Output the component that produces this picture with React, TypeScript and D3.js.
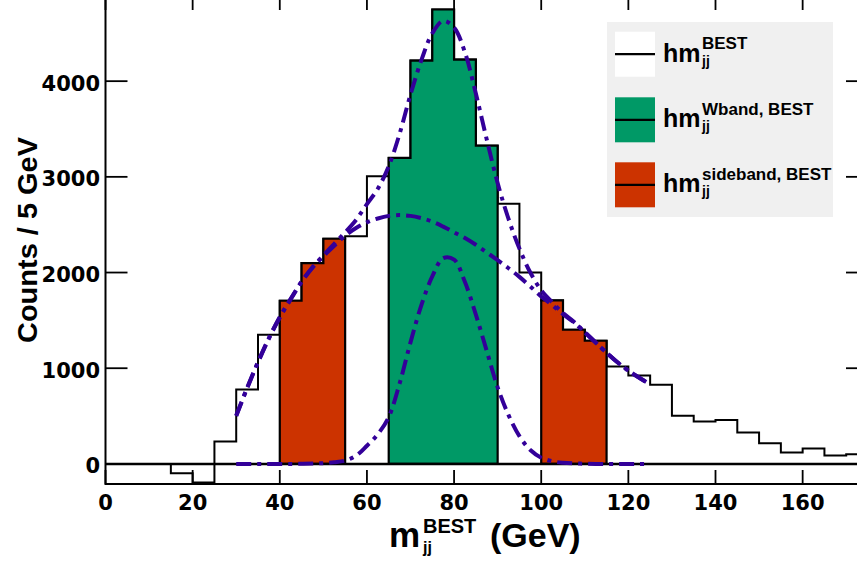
import React from 'react';
import * as d3 from 'd3';

// ---- data ----
const binLow = [0, 5, 10, 15, 20, 25, 30, 35, 40, 45, 50, 55, 60, 65, 70, 75, 80, 85, 90, 95, 100, 105, 110, 115, 120, 125, 130, 135, 140, 145, 150, 155, 160, 165, 170];
const binWidth = 5;
const hmBest = [0, 0, 0, -97, -195, 233, 778, 1349, 1705, 2099, 2353, 2378, 3005, 3198, 4215, 4749, 4226, 3326, 2720, 2001, 1708, 1402, 1287, 1018, 924, 826, 502, 443, 460, 327, 216, 118, 160, 87, 101];

const wbandBins = [65, 70, 75, 80, 85];
const wbandVals = [3198, 4215, 4749, 4226, 3326];
const sideLoBins = [40, 45, 50];
const sideLoVals = [1705, 2099, 2353];
const sideHiBins = [100, 105, 110];
const sideHiVals = [1708, 1402, 1287];

const fitX = [30, 32.5, 35, 37.5, 40, 42.5, 45, 47.5, 50, 52.5, 55, 57.5, 60, 62.5, 65, 67.5, 70, 72.5, 75, 77.5, 80, 82.5, 85, 87.5, 90, 92.5, 95, 97.5, 100, 102.5, 105, 107.5, 110, 112.5, 115, 117.5, 120, 122.5, 125];
const fitTotal = [505, 795, 1065, 1315, 1535, 1725, 1905, 2055, 2180, 2300, 2420, 2550, 2715, 2875, 3110, 3450, 3860, 4220, 4500, 4630, 4560, 4300, 3870, 3390, 2935, 2560, 2250, 2000, 1815, 1690, 1577, 1485, 1377, 1268, 1162, 1062, 975, 900, 830];
const fitBkg = [500, 790, 1060, 1310, 1530, 1720, 1900, 2050, 2170, 2280, 2385, 2465, 2525, 2565, 2592, 2600, 2592, 2568, 2532, 2480, 2420, 2360, 2290, 2210, 2130, 2045, 1955, 1855, 1750, 1660, 1565, 1480, 1375, 1268, 1162, 1062, 975, 900, 830];
const fitSig = [0, 0, 0, 0, 0, 0, 1, 3, 8, 18, 35, 85, 190, 310, 490, 840, 1270, 1660, 1960, 2150, 2135, 1900, 1560, 1180, 800, 510, 290, 145, 65, 28, 12, 5, 2, 0, 0, 0, 0, 0, 0];

const xTicks = [0, 20, 40, 60, 80, 100, 120, 140, 160];
const yTicks = [0, 1000, 2000, 3000, 4000];

const legendEntries = [
  { sup: 'BEST', fill: '#ffffff' },
  { sup: 'Wband, BEST', fill: '#009966' },
  { sup: 'sideband, BEST', fill: '#cc3300' },
];

const GREEN = '#009966';
const RED = '#cc3300';
const CURVE = '#330099';
const SANS = '"Liberation Sans", Arial, Helvetica, sans-serif';
const TICKFONT = '"DejaVu Sans", "Liberation Sans", sans-serif';

export default function App() {
  const W = 857, H = 571;
  const x = d3.scaleLinear().domain([0, 175]).range([105.5, 868]);
  const y = d3.scaleLinear().domain([-210, 4890]).range([484, -4]);
  const frameL = x(0), frameR = x(175), frameT = y(4890), frameB = y(-210);

  const stepPath = (lows: number[], vals: number[], closed: boolean) => {
    let p = `M${x(lows[0])},${y(0)}`;
    lows.forEach((lo, i) => {
      p += `L${x(lo)},${y(vals[i])}L${x(lo + binWidth)},${y(vals[i])}`;
    });
    p += `L${x(lows[lows.length - 1] + binWidth)},${y(0)}`;
    if (closed) p += 'Z';
    return p;
  };

  const line = d3.line<number>()
    .x((_, i) => x(fitX[i]))
    .y((d) => y(d))
    .curve(d3.curveCatmullRom.alpha(0.5));

  const curveStyle = {
    fill: 'none', stroke: CURVE, strokeWidth: 4, strokeDasharray: '15 6 4 6',
  } as React.CSSProperties;

  const legX = 607, legY = 22, legW = 226, legH = 195;
  const entryTop = [31.7, 97.3, 162.3];
  const swH = 45;

  return (
    <svg width={W} height={H} style={{ position: 'absolute', left: 0, top: 0, background: '#fff' }}>
      <rect x={0} y={0} width={W} height={H} fill="#fff" />
      {/* white histogram */}
      <path d={stepPath(binLow, hmBest, false)} fill="none" stroke="#000" strokeWidth={2} />
      {/* W band */}
      <path d={stepPath(wbandBins, wbandVals, true)} fill={GREEN} stroke="#000" strokeWidth={2.2} />
      {/* sidebands */}
      <path d={stepPath(sideLoBins, sideLoVals, true)} fill={RED} stroke="#000" strokeWidth={2.2} />
      <path d={stepPath(sideHiBins, sideHiVals, true)} fill={RED} stroke="#000" strokeWidth={2.2} />
      {/* zero line */}
      <line x1={frameL} x2={frameR} y1={y(0)} y2={y(0)} stroke="#000" strokeWidth={2.5} />
      {/* fit curves */}
      <path d={line(fitSig) || ''} style={curveStyle} />
      <path d={line(fitBkg) || ''} style={curveStyle} />
      <path d={line(fitTotal) || ''} style={curveStyle} />

      {/* frame */}
      <rect x={frameL} y={frameT} width={frameR - frameL} height={frameB - frameT} fill="none" stroke="#000" strokeWidth={2} />
      {xTicks.map((t) => (
        <g key={'xt' + t}>
          <line x1={x(t)} x2={x(t)} y1={frameB} y2={frameB - 14} stroke="#000" strokeWidth={1.8} />
          <line x1={x(t)} x2={x(t)} y1={frameT} y2={frameT + 14} stroke="#000" strokeWidth={1.8} />
          <text x={x(t)} y={510} textAnchor="middle" fontFamily={TICKFONT} fontWeight="bold" fontSize={21}>{t}</text>
        </g>
      ))}
      {yTicks.map((t) => (
        <g key={'yt' + t}>
          <line x1={frameL} x2={frameL + 22} y1={y(t)} y2={y(t)} stroke="#000" strokeWidth={1.8} />
          <line x1={frameR} x2={frameR - 22} y1={y(t)} y2={y(t)} stroke="#000" strokeWidth={1.8} />
          <text x={100} y={y(t) + 9.5} textAnchor="end" fontFamily={TICKFONT} fontWeight="bold" fontSize={21}>{t}</text>
        </g>
      ))}

      {/* axis titles */}
      <text transform="translate(36.5,240) rotate(-90)" textAnchor="middle" fontFamily={SANS} fontWeight="bold" fontSize={28} textLength={206} lengthAdjust="spacingAndGlyphs">Counts / 5 GeV</text>
      <g fontFamily={SANS} fontWeight="bold">
        <text x={389} y={547} fontSize={35}>m</text>
        <text x={423} y={533} fontSize={20}>BEST</text>
        <text x={423} y={553} fontSize={16}>jj</text>
        <text x={490} y={547} fontSize={34}>(GeV)</text>
      </g>

      {/* legend */}
      <rect x={legX} y={legY} width={legW} height={legH} fill="#f0f0f0" />
      {legendEntries.map((e, i) => {
        const top = entryTop[i];
        const mid = top + swH / 2;
        return (
          <g key={'leg' + i}>
            <rect x={615} y={top} width={40} height={swH} fill={e.fill} />
            <line x1={615} x2={655} y1={mid} y2={mid} stroke="#000" strokeWidth={2.2} />
            <g fontFamily={SANS} fontWeight="bold">
              <text x={663} y={mid + 7.5} fontSize={26.5} textLength={37.5} lengthAdjust="spacingAndGlyphs">hm</text>
              <text x={702} y={mid - 5} fontSize={17}>{e.sup}</text>
              <text x={702} y={mid + 11.5} fontSize={14}>jj</text>
            </g>
          </g>
        );
      })}
    </svg>
  );
}
